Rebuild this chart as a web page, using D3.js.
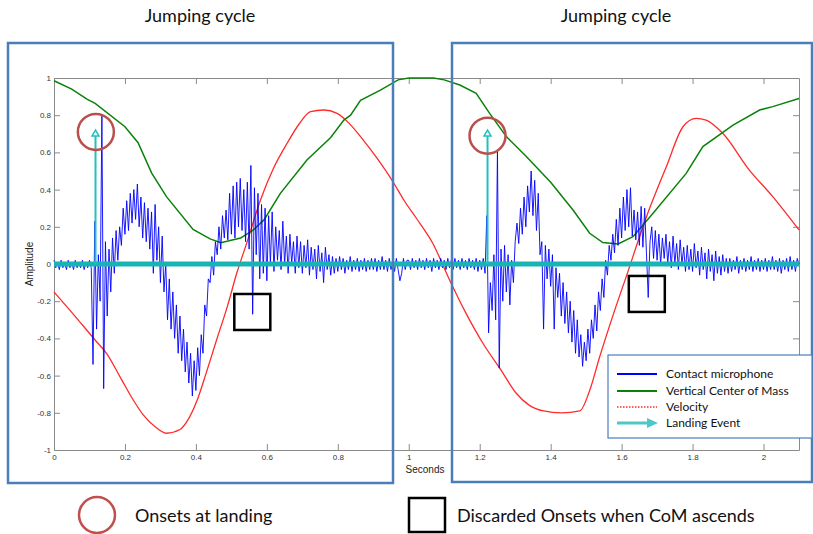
<!DOCTYPE html>
<html lang="en">
<head>
<meta charset="UTF-8">
<title>jumping cycle</title>
<script src="https://cdn.jsdelivr.net/npm/d3@7"></script>
<style>
	body{margin:0;background:#fff}
	svg{display:block;font-family:"Liberation Sans",Arial,sans-serif}
	.axis path,.axis line{stroke:#8a8a8a}
	.axis text{font-size:8px;fill:#333}
	.note{font-family:Lato,"Open Sans",sans-serif;fill:#111}
</style>
</head>
<body>
<svg id="chart" width="813" height="534"></svg>
<script>
	// ticks
	let xTicks = [0, 0.2, 0.4, 0.6, 0.8, 1, 1.2, 1.4, 1.6, 1.8, 2]
	let yTicks = [-1, -0.8, -0.6, -0.4, -0.2, 0, 0.2, 0.4, 0.6, 0.8, 1]

	// vertical centre of mass [seconds, amplitude]
	let comData = [
		[0,0.985],[0.05,0.94],[0.094,0.885],[0.116,0.864],[0.2,0.738],[0.237,0.652],[0.275,0.49],
		[0.317,0.362],[0.392,0.186],[0.44,0.135],[0.47,0.115],[0.526,0.14],[0.56,0.18],[0.592,0.237],
		[0.638,0.38],[0.713,0.559],[0.78,0.68],[0.817,0.774],[0.836,0.8],[0.864,0.88],[0.92,0.935],
		[0.97,0.99],[1.0,1.0],[1.07,1.0],[1.1,0.99],[1.144,0.962],[1.19,0.918],[1.228,0.81],
		[1.275,0.685],[1.332,0.577],[1.4,0.44],[1.463,0.29],[1.51,0.165],[1.547,0.115],[1.59,0.108],
		[1.632,0.147],[1.688,0.272],[1.782,0.487],[1.829,0.631],[1.914,0.747],[1.989,0.828],
		[2.026,0.846],[2.1,0.89]
	]

	// velocity [seconds, amplitude]
	let velData = [
		[0,-0.15],[0.05,-0.26],[0.12,-0.418],[0.148,-0.48],[0.19,-0.62],[0.223,-0.73],[0.251,-0.81],
		[0.285,-0.875],[0.317,-0.91],[0.355,-0.89],[0.38,-0.83],[0.404,-0.73],[0.43,-0.58],
		[0.458,-0.41],[0.49,-0.22],[0.515,-0.05],[0.543,0.111],[0.582,0.344],[0.62,0.52],
		[0.657,0.649],[0.69,0.75],[0.723,0.819],[0.76,0.828],[0.798,0.81],[0.83,0.76],[0.864,0.685],
		[0.91,0.57],[0.958,0.434],[0.986,0.344],[1.02,0.25],[1.068,0.11],[1.115,-0.086],[1.16,-0.26],
		[1.209,-0.426],[1.26,-0.57],[1.303,-0.695],[1.34,-0.76],[1.38,-0.79],[1.43,-0.8],[1.482,-0.79],
		[1.51,-0.68],[1.538,-0.5],[1.575,-0.28],[1.613,-0.068],[1.67,0.254],[1.726,0.523],
		[1.773,0.738],[1.81,0.783],[1.838,0.774],[1.885,0.703],[1.96,0.505],[2.026,0.362],[2.1,0.183]
	]

	// contact microphone, one sample every 5 ms, amplitude x100
	let micStep = 0.005
	let micFirst = [
		2,-2,1,-3,2,-2,1,-3,2,-2,1,-3,2,-2,1,-2,2,-3,1,-2,
		2,-2,-54,23,-35,5,-20,80,-67,12,-28,8,-15,14,-5,18,2,20,10,30,
		16,34,18,38,22,40,24,43,20,36,14,33,12,30,8,28,-5,32,2,20,
		-10,15,-15,0,-30,-8,-35,-15,-40,-22,-48,-28,-52,-35,-58,-42,-64,-48,-71,-52,
		-68,-45,-60,-38,-48,-22,-28,-8,-10,4,-6,12,5,20,8,26,14,29,13,38,
		16,42,14,44,20,46,18,40,12,44,8,53,-27,41,5,38,-8,32,-5,30,
		-9,26,0,28,-4,20,2,18,-3,23,0,15,-5,16,0,12,-5,15,-2,12,
		-5,10,-2,13,-6,9,-3,8,-8,10,-4,6,-10,9,-3,5,-6,4,-5,3,
		-4,4,-3,3,-5,2,-3,4,-4,2,-3,3,-4,2,-3,3,-4,2,-3,3,
		-3,3,-4,2,-3,4,-3,2,-4,3,-3,2,-4,3,-3,-9,-5,3,-3,2
	]
	let micSecond = [
		2,-3,3,-2,2,-3,3,-2,2,-3,3,-2,2,-4,3,-2,2,-3,3,-2,
		2,-3,3,-2,2,-3,3,-2,2,-3,3,-2,2,-3,3,-2,2,-3,3,-4,
		2,-3,3,-5,26,-37,-10,-25,5,-30,61,-56,8,-20,10,-15,5,-22,2,-10,
		12,22,11,30,16,36,20,42,28,50,26,45,18,38,5,12,-35,10,-8,8,
		-12,5,-35,-2,-18,-5,-28,-10,-32,-15,-37,-20,-42,-25,-48,-30,-50,-38,-55,-42,
		-52,-35,-48,-30,-40,-22,-36,-15,-25,-8,-18,2,-6,10,2,16,6,24,10,30,
		14,36,18,40,20,41,15,29,13,28,10,31,9,30,6,-18,12,20,3,18,
		2,16,0,14,3,16,0,12,-2,15,0,11,-3,13,0,9,-4,10,-3,8,
		-4,11,-2,7,-6,9,-3,6,-8,8,-4,5,-9,7,-5,4,-6,5,-4,3,
		-5,3,-4,2,-3,4,-5,2,-3,3,-4,2,-3,4,-4,2,-3,3,-4,2,
		-3,3,-4,2,-3,4,-3,2,-4,3,-5,2,-3,3,-4,4,-3,2,-4,3,0
	]

	// annotations (seconds, amplitude)
	let landingTimes = [0.117, 1.222]
	let landingTop = 0.72
	let onsetCircles = [{t:0.118, a:0.71}, {t:1.222, a:0.69}]
	let discarded = [{t:0.559, a:-0.258}, {t:1.671, a:-0.161}]

	let legendLabels = ["Contact microphone", "Vertical Center of Mass", "Velocity", "Landing Event"]

	let svg = d3.select("#chart")
	let x = d3.scaleLinear().domain([0, 2.1]).range([54, 799])
	let y = d3.scaleLinear().domain([-1, 1]).range([450, 78])

	// axes
	svg.append("g").attr("class","axis")
		.attr("transform","translate(0,450)")
		.call(d3.axisBottom(x).tickValues(xTicks).tickFormat(d => d).tickSizeInner(-6).tickSizeOuter(0).tickPadding(4))
	svg.append("g").attr("class","axis")
		.attr("transform","translate(0,78)")
		.call(d3.axisTop(x).tickValues(xTicks).tickFormat("").tickSizeInner(-6).tickSizeOuter(0))
	svg.append("g").attr("class","axis")
		.attr("transform","translate(54,0)")
		.call(d3.axisLeft(y).tickValues(yTicks).tickFormat(d => d).tickSizeInner(-6).tickSizeOuter(0).tickPadding(3))
	svg.append("g").attr("class","axis")
		.attr("transform","translate(799,0)")
		.call(d3.axisRight(y).tickValues(yTicks).tickFormat("").tickSizeInner(-6).tickSizeOuter(0))
	svg.selectAll(".axis .domain").attr("stroke","#8a8a8a")

	svg.append("text").attr("transform","translate(33,264) rotate(-90)")
		.attr("text-anchor","middle").style("font-size","10px").attr("fill","#222").text("Amplitude")
	svg.append("text").attr("x",425).attr("y",473)
		.attr("text-anchor","middle").style("font-size","10px").attr("fill","#222").text("Seconds")

	let line = d3.line().x(d => x(d[0])).y(d => y(d[1]))

	svg.append("path").datum(velData)
		.attr("d", line.curve(d3.curveMonotoneX))
		.attr("fill","none").attr("stroke","#ff2a2a").attr("stroke-width",1.3)

	svg.append("path").datum(comData)
		.attr("d", d3.line().x(d => x(d[0])).y(d => y(d[1]))(comData))
		.attr("fill","none").attr("stroke","#0a820a").attr("stroke-width",1.5)

	let mic = micFirst.concat(micSecond).map((v,i) => [i*micStep, v/100])
	svg.append("path").datum(mic)
		.attr("d", d3.line().x(d => x(d[0])).y(d => y(d[1]))(mic))
		.attr("fill","none").attr("stroke","#0000ff").attr("stroke-width",1).attr("stroke-opacity",0.9)

	// landing line at zero
	svg.append("line")
		.attr("x1",x(0)).attr("x2",x(2.1)).attr("y1",y(0)).attr("y2",y(0))
		.attr("stroke","#18b4b4").attr("stroke-width",5)

	// landing arrows
	landingTimes.forEach(t => {
		let cx = x(t), tip = y(landingTop)
		svg.append("line").attr("x1",cx).attr("x2",cx).attr("y1",y(0)).attr("y2",tip+5)
			.attr("stroke","#22c0c0").attr("stroke-width",2)
		svg.append("path").attr("d","M"+cx+","+tip+"L"+(cx-3.5)+","+(tip+6)+"L"+(cx+3.5)+","+(tip+6)+"Z")
			.attr("fill","#fff").attr("stroke","#22c0c0").attr("stroke-width",1.5)
	})

	svg.selectAll(".onset").data(onsetCircles).enter().append("circle")
		.attr("cx", d => x(d.t)).attr("cy", d => y(d.a)).attr("r",18)
		.attr("fill","none").attr("stroke","#b9504b").attr("stroke-width",2.5)

	svg.selectAll(".disc").data(discarded).enter().append("rect")
		.attr("x", d => x(d.t)-18).attr("y", d => y(d.a)-18).attr("width",36).attr("height",36)
		.attr("fill","none").attr("stroke","#000").attr("stroke-width",2.5)

	// cycle boxes
	svg.append("rect").attr("x",8).attr("y",43).attr("width",385).attr("height",440)
		.attr("fill","none").attr("stroke","#4a7ebb").attr("stroke-width",2.5)
	svg.append("rect").attr("x",452).attr("y",43).attr("width",360).attr("height",439)
		.attr("fill","none").attr("stroke","#4a7ebb").attr("stroke-width",2.5)

	svg.append("text").attr("class","note").attr("x",200).attr("y",22).attr("text-anchor","middle")
		.style("font-size","18px").text("Jumping cycle")
	svg.append("text").attr("class","note").attr("x",616).attr("y",22).attr("text-anchor","middle")
		.style("font-size","18px").text("Jumping cycle")

	// legend
	let lg = svg.append("g").attr("transform","translate(608,355)")
	lg.append("rect").attr("width",204).attr("height",83).attr("fill","#fff")
		.attr("stroke","#4a7ebb").attr("stroke-width",1.2)
	let rowY = [19, 36, 52, 68]
	let lgColor = ["#0000ff","#0a820a","#ff2a2a","#4cc8c8"]
	legendLabels.forEach((name,i) => {
		if(i < 3){
			lg.append("line").attr("x1",9).attr("x2",49).attr("y1",rowY[i]).attr("y2",rowY[i])
				.attr("stroke",lgColor[i]).attr("stroke-width",i==2?1.5:2)
				.attr("stroke-dasharray",i==2?"1.5,1.5":null)
		} else {
			lg.append("line").attr("x1",9).attr("x2",39).attr("y1",rowY[i]).attr("y2",rowY[i])
				.attr("stroke",lgColor[i]).attr("stroke-width",3)
			lg.append("path").attr("d","M39,"+(rowY[i]-5)+"L50,"+rowY[i]+"L39,"+(rowY[i]+5)+"Z").attr("fill",lgColor[i])
		}
		lg.append("text").attr("class","note").attr("x",58).attr("y",rowY[i]+4)
			.style("font-size","12px").text(name)
	})

	// bottom key
	svg.append("circle").attr("cx",97).attr("cy",515).attr("r",18)
		.attr("fill","none").attr("stroke","#c0504d").attr("stroke-width",2.5)
	svg.append("text").attr("class","note").attr("x",135).attr("y",522)
		.style("font-size","18px").text("Onsets at landing")
	svg.append("rect").attr("x",409).attr("y",498).attr("width",36).attr("height",34)
		.attr("fill","none").attr("stroke","#000").attr("stroke-width",2.5)
	svg.append("text").attr("class","note").attr("x",457).attr("y",522)
		.style("font-size","18px").text("Discarded Onsets when CoM ascends")
</script>
</body>
</html>
